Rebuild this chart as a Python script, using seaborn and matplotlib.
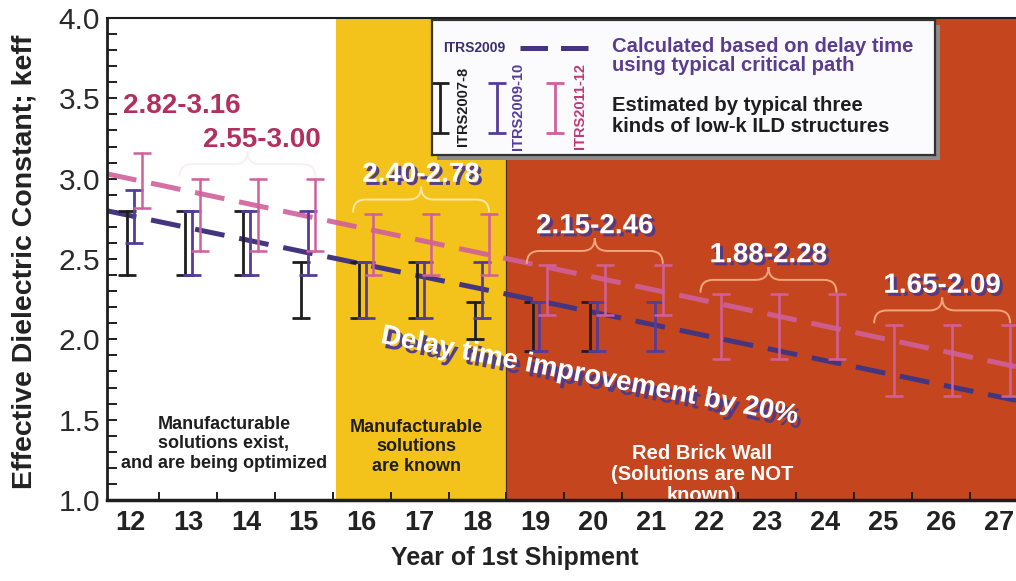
import numpy as np
import pandas as pd
import matplotlib
matplotlib.use("Agg")
import matplotlib.pyplot as plt
import matplotlib.patheffects as pe
from matplotlib.path import Path
from matplotlib.patches import PathPatch, Rectangle
import seaborn as sns

# ---------------- data ----------------
years_0708 = [12, 13, 14, 15, 16, 17, 18, 19, 20]
low_0708 = [2.40, 2.40, 2.40, 2.13, 2.13, 2.13, 2.00, 1.93, 1.93]
high_0708 = [2.80, 2.80, 2.80, 2.48, 2.48, 2.48, 2.23, 2.23, 2.23]

years_0910 = [12, 13, 14, 15, 16, 17, 18, 19, 20, 21]
low_0910 = [2.60, 2.40, 2.40, 2.40, 2.13, 2.13, 2.13, 1.93, 1.93, 1.93]
high_0910 = [2.93, 2.80, 2.80, 2.80, 2.48, 2.48, 2.48, 2.23, 2.23, 2.23]

years_1112 = [12, 13, 14, 15, 16, 17, 18, 19, 20, 21, 22, 23, 24, 25, 26, 27]
low_1112 = [2.82, 2.55, 2.55, 2.55, 2.40, 2.40, 2.40, 2.15, 2.15, 2.15,
            1.88, 1.88, 1.88, 1.65, 1.65, 1.65]
high_1112 = [3.16, 3.00, 3.00, 3.00, 2.78, 2.78, 2.78, 2.46, 2.46, 2.46,
             2.28, 2.28, 2.28, 2.09, 2.09, 2.09]

# delay-time based trends across the plotted span
trend_years = [11.6, 27.3]
trend_itrs2009 = [2.80, 1.62]
trend_itrs2011 = [3.03, 1.83]

year_ticks = list(range(12, 28))
zone_edges = [15.55, 18.5, 27.3]

# ---------------- style ----------------
BLACK = "#1e1e1e"
PURPLE = "#553C98"
PINK = "#D0609A"
NAVY = "#45357F"
YELLOW = "#F3C21B"
BRICK = "#C5461E"
CRIMSON = "#B3305E"
SHADOW = "#4B3A8C"

sns.set_style("ticks")
plt.rcParams["font.family"] = ["Liberation Sans", "DejaVu Sans"]

W, H = 1016, 581
fig = plt.figure(figsize=(W / 100, H / 100), dpi=100)
fig.patch.set_facecolor("white")
ax = fig.add_axes([107 / W, 81 / H, (W - 107) / W, 482 / H])
ax.set_facecolor("white")

ax.set_xlim(trend_years[0], trend_years[1])
ax.set_ylim(1.0, 4.0)

# background zones
ax.axvspan(zone_edges[0], zone_edges[1], facecolor=YELLOW, lw=0, zorder=0)
ax.axvspan(zone_edges[1], zone_edges[2], facecolor=BRICK, lw=0, zorder=0)
ax.axvline(zone_edges[1], color="#4a3010", lw=0.9, zorder=0.5)

# trend lines
dash = (0, (6.0, 3.0))
sns.lineplot(x=trend_years, y=trend_itrs2011, color=PINK, lw=3.6, alpha=0.9,
             linestyle=dash, dash_capstyle="butt", ax=ax, zorder=2)
sns.lineplot(x=trend_years, y=trend_itrs2009, color=NAVY, lw=3.6,
             linestyle=dash, dash_capstyle="butt", ax=ax, zorder=2.1)


def ranges(yrs, lo, hi, dx):
    x = np.repeat(np.asarray(yrs, float) + dx, 2)
    k = np.ravel(np.column_stack([lo, hi]))
    return pd.DataFrame({"year": x, "k": k})


for yrs, lo, hi, dx, col, lw in [
    (years_0708, low_0708, high_0708, -0.05, BLACK, 2.0),
    (years_0910, low_0910, high_0910, 0.07, PURPLE, 2.0),
    (years_1112, low_1112, high_1112, 0.20, PINK, 1.8),
]:
    sns.lineplot(data=ranges(yrs, lo, hi, dx), x="year", y="k",
                 estimator="mean", errorbar=lambda v: (v.min(), v.max()),
                 err_style="bars", color=col, linestyle="", marker="",
                 err_kws=dict(capsize=6.5, elinewidth=lw, capthick=lw,
                              zorder=4),
                 ax=ax)


# braces and range labels for the ITRS2011-12 groups
def brace(x0, x1, y, d, color):
    xm = 0.5 * (x0 + x1)
    r = 0.22
    verts = [(x0, y - d), (x0, y), (x0 + r, y), (xm - r, y),
             (xm, y), (xm, y + d), (xm, y), (xm + r, y), (x1 - r, y),
             (x1, y), (x1, y - d)]
    codes = [Path.MOVETO, Path.CURVE3, Path.CURVE3, Path.LINETO,
             Path.CURVE3, Path.CURVE3, Path.CURVE3, Path.CURVE3, Path.LINETO,
             Path.CURVE3, Path.CURVE3]
    ax.add_patch(PathPatch(Path(verts, codes), fill=False, ec=color, lw=1.4,
                           zorder=5))


groups = []
for yr, lo, hi in zip(years_1112, low_1112, high_1112):
    if groups and groups[-1]["lo"] == lo and groups[-1]["hi"] == hi:
        groups[-1]["last"] = yr
    else:
        groups.append({"first": yr, "last": yr, "lo": lo, "hi": hi})

brace_colors = [None, "#F6EFF4", "#FBE7A6", "#F2A57C", "#F2A57C", "#F2A57C"]
label_dx = [0.86, 0.25, 0.0, 0.0, 0.0, 0.0]
label_dy = [0.05, 0.0, 0.0, 0.0, 0.0, 0.0]
shadow_fx = [pe.withSimplePatchShadow(offset=(2.2, -2.2),
                                      shadow_rgbFace=SHADOW, alpha=0.95)]
for i, g in enumerate(groups):
    x0, x1 = g["first"] - 0.15, g["last"] + 0.2
    yb = g["hi"] + 0.09
    if brace_colors[i]:
        brace(x0, x1, yb, 0.08, brace_colors[i])
    text = f"{g['lo']:.2f}-{g['hi']:.2f}"
    white = i >= 2
    ax.text(0.5 * (x0 + x1) + label_dx[i], yb + 0.11 + label_dy[i], text,
            ha="center", va="baseline", fontsize=20, weight="bold",
            color="white" if white else CRIMSON,
            path_effects=shadow_fx if white else None, zorder=6)

# zone captions
ax.text(13.62, 1.35, "Manufacturable\nsolutions exist,\nand are being optimized",
        ha="center", va="center", fontsize=13, weight="bold", color=BLACK,
        linespacing=1.2, zorder=6)
ax.text(16.95, 1.33, "Manufacturable\nsolutions\nare known",
        ha="center", va="center", fontsize=13, weight="bold", color=BLACK,
        linespacing=1.2, zorder=6)
ax.text(21.88, 1.16, "Red Brick Wall\n(Solutions are NOT\nknown)",
        ha="center", va="center", fontsize=14.5, weight="bold", color="white",
        linespacing=1.12, zorder=6, clip_on=True)

ax.text(19.93, 1.77, "Delay time improvement by 20%", ha="center",
        va="center", rotation=-11, rotation_mode="anchor", fontsize=20,
        weight="bold", color="white", zorder=7,
        path_effects=[pe.withSimplePatchShadow(offset=(2.5, -3.5),
                                               shadow_rgbFace=SHADOW,
                                               alpha=0.95)])

# axes, ticks, labels
ax.set_yticks(np.arange(1.0, 4.01, 0.5))
ax.set_yticklabels([f"{v:.1f}" for v in np.arange(1.0, 4.01, 0.5)])
ax.set_yticks(np.arange(1.0, 4.01, 0.1), minor=True)
ax.set_xticks(year_ticks)
ax.set_xticklabels([str(y) for y in year_ticks])
ax.set_xticks(np.arange(12.5, 27.0, 1.0), minor=True)

ax.tick_params(axis="y", which="both", direction="in", length=7, width=1.4,
               color=BLACK, pad=5, labelsize=21.5, labelcolor="#2a2a2a")
ax.tick_params(axis="x", which="major", length=0, pad=7)
ax.tick_params(axis="x", which="minor", direction="in", length=6, width=1.4,
               color=BLACK)
for lab in ax.get_xticklabels():
    lab.set_fontfamily(["Liberation Sans Narrow", "Liberation Sans"])
    lab.set_fontweight("bold")
    lab.set_fontsize(19.5)
    lab.set_color("#222222")

ax.spines["right"].set_visible(False)
ax.spines["left"].set_linewidth(2.0)
ax.spines["bottom"].set_linewidth(2.5)
ax.spines["top"].set_linewidth(1.5)
for s in ("left", "bottom", "top"):
    ax.spines[s].set_color(BLACK)
    ax.spines[s].set_zorder(8)

ax.set_xlabel("Year of 1st Shipment", fontsize=18, weight="bold",
              color="#222222",
              fontfamily=["Liberation Sans Narrow", "Liberation Sans"])
ax.xaxis.set_label_coords(0.449, -0.095)
ax.set_ylabel("Effective Dielectric Constant; keff", fontsize=20.5,
              weight="bold", color="#222222")
ax.yaxis.set_label_coords(-0.076, 0.494)

# ---------------- key box ----------------
bx0, by0, bx1, by1 = 432, 20, 935, 155
fig.patches.append(Rectangle(((bx0 + 5) / W, 1 - (by1 + 5) / H),
                             (bx1 - bx0) / W, (by1 - by0) / H,
                             transform=fig.transFigure, facecolor="#8c8c8c",
                             edgecolor="none", zorder=1))
lg = fig.add_axes([bx0 / W, 1 - by1 / H, (bx1 - bx0) / W, (by1 - by0) / H])
lg.set_zorder(5)
lg.set_xlim(bx0, bx1)
lg.set_ylim(by1, by0)
lg.set_xticks([])
lg.set_yticks([])
lg.set_facecolor("#FBFBFD")
for s in lg.spines.values():
    s.set_color("#333333")
    s.set_linewidth(1.6)

lg.text(474, 48, "ITRS2009", ha="center", va="center", fontsize=10,
        weight="bold", color="#3B2F6E")
lg.plot([520, 590], [48, 48], color=NAVY, lw=3.6, linestyle=(0, (5.5, 2.6)),
        dash_capstyle="butt")
lg.text(612, 56, "Calculated based on delay time\nusing typical critical path",
        ha="left", va="center", fontsize=14.6, weight="bold", color="#5B3D8E",
        linespacing=1.05)
lg.text(612, 116, "Estimated by typical three\nkinds of low-k ILD structures",
        ha="left", va="center", fontsize=14.6, weight="bold", color=BLACK,
        linespacing=1.1)
for x, col, name, tx in [(440, BLACK, "ITRS2007-8", 463),
                         (497, PURPLE, "ITRS2009-10", 518),
                         (555, PINK, "ITRS2011-12", 580)]:
    lg.errorbar([x], [108], yerr=[[25], [25]], color=col, capsize=6.5,
                elinewidth=2.0, capthick=2.0, fmt="none")
    lg.text(tx, 106, name, rotation=90, ha="center", va="center",
            fontsize=10.5, weight="bold",
            color=("#C03878" if col == PINK else col))

fig.savefig("out.png", dpi=100)
